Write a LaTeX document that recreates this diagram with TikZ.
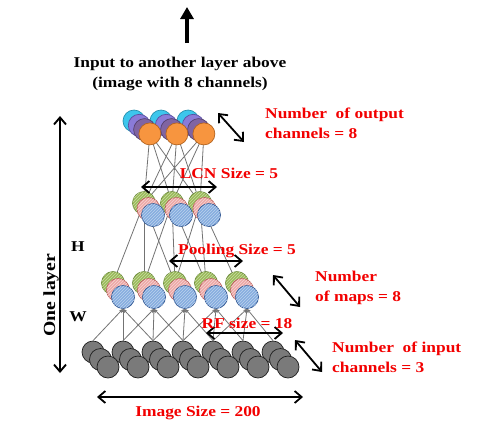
\documentclass[tikz,border=0pt]{standalone}
\usepackage{fontspec}
\setmainfont{Liberation Serif}[FakeStretch=1.16]
\usetikzlibrary{arrows.meta,patterns,backgrounds}
\definecolor{cgreen}{HTML}{9BBB59}
\definecolor{cgreenD}{HTML}{6B8A3A}
\definecolor{cpink}{HTML}{EDA9A7}
\definecolor{cpinkD}{HTML}{B65B58}
\definecolor{cblue}{HTML}{86ADDF}
\definecolor{cblueD}{HTML}{2F5590}
\definecolor{cgray}{HTML}{7A7A7A}
\definecolor{cgrayD}{HTML}{1E1E1E}
\definecolor{ccyan}{HTML}{3DC6EC}
\definecolor{ccyanD}{HTML}{2790AE}
\definecolor{cviol}{HTML}{8A7BD8}
\definecolor{cviolD}{HTML}{5A4EA0}
\definecolor{cpurp}{HTML}{8064A2}
\definecolor{cpurpD}{HTML}{54406E}
\definecolor{corange}{HTML}{F7953F}
\definecolor{corangeD}{HTML}{B3631E}
\definecolor{clab}{HTML}{F20000}
\begin{document}
\begin{tikzpicture}[x=1pt,y=-1pt,
  circ/.style={circle, inner sep=0pt, line width=0.7pt},
  hatch/.style={postaction={pattern=north east lines, pattern color=#1}},
  gcirc/.style={circ, minimum size=23pt, fill=cgreen, draw=cgreenD, hatch=cgreen!55!white},
  pcirc/.style={circ, minimum size=23pt, fill=cpink, draw=cpinkD, hatch=cpink!50!white},
  bcirc/.style={circ, minimum size=23pt, fill=cblue, draw=cblueD, hatch=cblue!55!white},
  incirc/.style={circ, minimum size=22pt, fill=cgray, draw=cgrayD},
  cycirc/.style={circ, minimum size=22pt, fill=ccyan, draw=ccyanD},
  vicirc/.style={circ, minimum size=22pt, fill=cviol, draw=cviolD},
  pucirc/.style={circ, minimum size=22pt, fill=cpurp, draw=cpurpD},
  orcirc/.style={circ, minimum size=22pt, fill=corange, draw=corangeD},
  conn/.style={draw=black!55, line width=0.8pt},
  dimarrow/.style={draw=black, line width=1.8pt, {Straight Barb[length=7pt,width=12pt]}-{Straight Barb[length=7pt,width=12pt]}},
  redlab/.style={text=clab, font=\fontsize{15}{20}\selectfont\bfseries, inner sep=0pt},
  blacklab/.style={text=black, font=\fontsize{15}{20}\selectfont\bfseries, inner sep=0pt}
]
\useasboundingbox (0,0) rectangle (484,440);

% ---------- input layer: 7 groups x 3 channels
\foreach \d in {0,1,2}{
  \foreach \i in {0,...,6}{
    \node[incirc] (in-\i-\d) at ({93+30*\i+7.5*\d},{352+7.5*\d}) {};
  }
}
% ---------- pooling/map layer: 5 groups
\foreach \d/\st in {0/gcirc,1/pcirc,2/bcirc}{
  \foreach \j in {0,...,4}{
    \node[\st] (pool-\j-\d) at ({113+31*\j+5*\d},{283+7*\d}) {};
  }
}
% ---------- LCN layer: 3 groups
\foreach \d/\st in {0/gcirc,1/pcirc,2/bcirc}{
  \foreach \k in {0,1,2}{
    \node[\st] (lcn-\k-\d) at ({144+28*\k+4.5*\d},{203+6*\d}) {};
  }
}
% ---------- output layer: 3 groups
\foreach \d/\st in {0/cycirc,1/vicirc,2/pucirc,3/orcirc}{
  \foreach \k in {0,1,2}{
    \node[\st] (out-\k-\d) at ({134+27*\k+5.3*\d},{121+4.3*\d}) {};
  }
}

% ---------- connections behind the circles
\begin{scope}[on background layer]
  \foreach \k in {0,1,2}{
    \foreach \m in {0,1,2}{
      \pgfmathtruncatemacro{\j}{\k+\m}
      \draw[conn] (pool-\j-0.center) -- (lcn-\k-0.center);
      \draw[conn] (lcn-\m-0.center) -- (out-\k-3.center);
    }
  }
\end{scope}
% ---------- input -> pooling with small arrowheads
\foreach \j in {0,...,4}{
  \foreach \m in {0,1,2}{
    \pgfmathtruncatemacro{\i}{\j+\m}
    \draw[conn, -{Stealth[length=4pt,width=3.5pt]}] (in-\i-0.north) -- (pool-\j-2.south);
  }
}

% ---------- big arrows
\coordinate (upB) at (187,43);
\coordinate (upT) at (187,7);
\draw[line width=3.5pt, -{Triangle[length=12pt,width=13pt]}] (upB) -- (upT);

\coordinate (olT) at (60,116);
\coordinate (olB) at (60,373);
\draw[dimarrow, line width=1.9pt] (olT) -- (olB);

\coordinate (lcnL) at (141,187);
\coordinate (lcnR) at (217,187);
\draw[dimarrow] (lcnL) -- (lcnR);

\coordinate (poolL) at (169,261);
\coordinate (poolR) at (243,261);
\draw[dimarrow] (poolL) -- (poolR);

\coordinate (rfL) at (206,333);
\coordinate (rfR) at (283,333);
\draw[dimarrow] (rfL) -- (rfR);

\coordinate (imgL) at (97,397);
\coordinate (imgR) at (303,397);
\draw[dimarrow] (imgL) -- (imgR);

\coordinate (ocA) at (218,113);
\coordinate (ocB) at (244,142);
\draw[dimarrow] (ocA) -- (ocB);

\coordinate (mpA) at (273,275);
\coordinate (mpB) at (300,307);
\draw[dimarrow] (mpA) -- (mpB);

\coordinate (icA) at (295,340);
\coordinate (icB) at (322,372);
\draw[dimarrow] (icA) -- (icB);

% ---------- labels
\node[blacklab, align=center] (title) at (180,74) {Input to another layer above\\(image with 8 channels)};
\node[blacklab, font=\fontsize{17}{20}\selectfont\bfseries, rotate=90] (onelayer) at (51,295) {One layer};
\node[blacklab] (hlab) at (78,247) {H};
\node[blacklab] (wlab) at (78,317) {W};

\node[redlab] (lcnlab) at (229,173) {LCN Size = 5};
\node[redlab] (poollab) at (237,251) {Pooling Size = 5};
\node[redlab] (rflab) at (247,323) {RF size = 18};
\node[redlab] (imglab) at (198,413) {Image Size = 200};
\node[redlab, align=left, anchor=west] (outlab) at (265,123) {Number~~of output\\channels = 8};
\node[redlab, align=left, anchor=west] (maplab) at (315,287.5) {Number\\of maps = 8};
\node[redlab, align=left, anchor=west] (inlab) at (332,357) {Number~~of input\\channels = 3};
\end{tikzpicture}
\end{document}
